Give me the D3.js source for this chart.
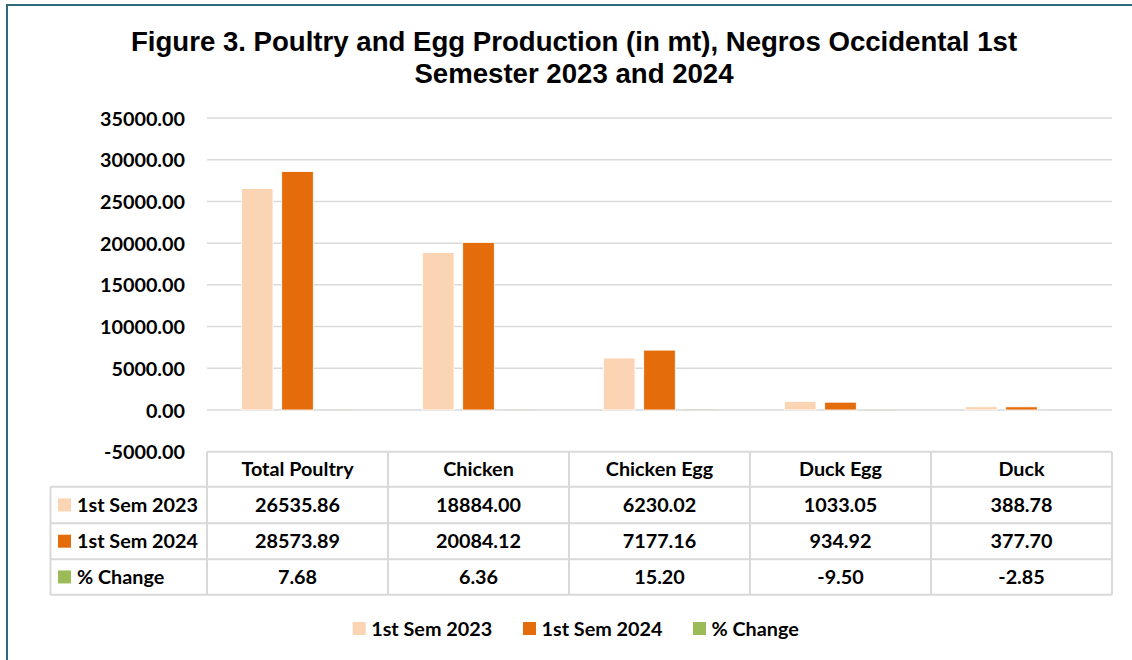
<!DOCTYPE html>
<meta charset="utf-8">
<title>Figure 3 - Poultry and Egg Production</title>
<style>
body { margin: 0; background: #fff; }
svg { display: block; }
.cal { font-family: Lato, "Open Sans", sans-serif; font-weight: bold; fill: #000; }
</style>
<script src="https://d3js.org/d3.v7.min.js"></script>
<body>
<script>
var width = 1132, height = 660;

// chart data
var categories = ["Total Poultry", "Chicken", "Chicken Egg", "Duck Egg", "Duck"];
var seriesNames = ["1st Sem 2023", "1st Sem 2024", "% Change"];
var sem2023 = [26535.86, 18884.00, 6230.02, 1033.05, 388.78];
var sem2024 = [28573.89, 20084.12, 7177.16, 934.92, 377.70];
var pctChange = [7.68, 6.36, 15.20, -9.50, -2.85];
var yTicks = [-5000, 0, 5000, 10000, 15000, 20000, 25000, 30000, 35000];
var colors = ["#FBD4B4", "#E46C0A", "#9BBB59"];

var series = [sem2023, sem2024, pctChange];
var fmt = d3.formatLocale({ decimal: ".", thousands: ",", grouping: [3], currency: ["", ""], minus: "-" }).format(".2f");
var fs = "19.8px";

var svg = d3.select("body").append("svg")
    .attr("width", width)
    .attr("height", height);

// outer frame (runs off the right and bottom edge)
svg.append("rect")
    .attr("x", 7).attr("y", 5)
    .attr("width", 1140).attr("height", 670)
    .attr("fill", "none")
    .attr("stroke", "#2F6A7A")
    .attr("stroke-width", 2);

// title
var title = svg.append("text")
    .attr("text-anchor", "middle")
    .style("font-family", "'Liberation Sans', Arial, sans-serif")
    .style("font-weight", "bold")
    .style("font-size", "27.6px");
title.append("tspan").attr("x", 574).attr("y", 51)
    .text("Figure 3. Poultry and Egg Production (in mt), Negros Occidental 1st");
title.append("tspan").attr("x", 574).attr("y", 83)
    .text("Semester 2023 and 2024");

var left = 207, right = 1112;

var y = d3.scaleLinear()
    .domain([-5000, 35000])
    .range([451.7, 118]);

var x0 = d3.scaleBand()
    .domain(categories)
    .range([left, right]);

var x1 = d3.scaleBand()
    .domain(seriesNames)
    .range([34.4, 146.6])
    .paddingInner(0.216);

// gridlines
svg.append("g")
  .selectAll("line")
    .data(yTicks.filter(function(d) { return d >= 0; }))
  .enter().append("line")
    .attr("x1", left).attr("x2", right)
    .attr("y1", function(d) { return y(d); })
    .attr("y2", function(d) { return y(d); })
    .attr("stroke", "#D9D9D9")
    .attr("stroke-width", 1.5);

// y axis labels
var yAxis = d3.axisLeft(y)
    .tickValues(yTicks)
    .tickFormat(fmt)
    .tickSize(0)
    .tickPadding(0);
var ya = svg.append("g")
    .attr("transform", "translate(185,0)")
    .call(yAxis);
ya.select(".domain").remove();
ya.selectAll("text")
    .attr("class", "cal")
    .attr("dy", "0.36em")
    .style("font-size", fs);

// bars
var groups = svg.append("g")
  .selectAll("g")
    .data(categories)
  .enter().append("g")
    .attr("transform", function(d) { return "translate(" + x0(d) + ",0)"; });

groups.selectAll("rect")
    .data(function(d, i) {
      return series.map(function(s, j) { return { name: seriesNames[j], value: s[i], j: j }; });
    })
  .enter().append("rect")
    .attr("x", function(d) { return x1(d.name); })
    .attr("width", x1.bandwidth())
    .attr("y", function(d) { return y(Math.max(0, d.value)); })
    .attr("height", function(d) { return Math.abs(y(d.value) - y(0)); })
    .attr("fill", function(d) { return colors[d.j]; })
    .attr("stroke", function(d) { return Math.abs(y(d.value) - y(0)) > 1 ? "#fff" : "none"; })
    .attr("stroke-width", 0.8);

// data table
var tableTop = 451.7, rowH = [35, 36.5, 36, 35.5];
var rowY = [tableTop];
rowH.forEach(function(h, i) { rowY.push(rowY[i] + h); });
var labelLeft = 50.5;
var tbl = svg.append("g");
var lineColor = "#D9D9D9";

// horizontal lines
rowY.forEach(function(yy, i) {
  tbl.append("line")
      .attr("x1", i === 0 ? left : labelLeft).attr("x2", right)
      .attr("y1", yy).attr("y2", yy)
      .attr("stroke", lineColor).attr("stroke-width", 2);
});
// vertical lines
tbl.append("line")
    .attr("x1", labelLeft).attr("x2", labelLeft)
    .attr("y1", rowY[1]).attr("y2", rowY[4])
    .attr("stroke", lineColor).attr("stroke-width", 2);
categories.concat(["end"]).forEach(function(c, i) {
  var xx = i < categories.length ? x0(c) : right;
  tbl.append("line")
      .attr("x1", xx).attr("x2", xx)
      .attr("y1", rowY[0]).attr("y2", rowY[4])
      .attr("stroke", lineColor).attr("stroke-width", 2);
});

// header
tbl.selectAll("text.head")
    .data(categories)
  .enter().append("text")
    .attr("class", "cal head")
    .attr("text-anchor", "middle")
    .attr("x", function(d) { return x0(d) + x0.bandwidth() / 2; })
    .attr("y", (rowY[0] + rowY[1]) / 2)
    .attr("dy", "0.36em")
    .style("font-size", fs)
    .text(function(d) { return d; });

// rows
series.forEach(function(s, j) {
  var cy = (rowY[j + 1] + rowY[j + 2]) / 2;
  tbl.append("rect")
      .attr("x", 58).attr("y", cy - 6.5)
      .attr("width", 13).attr("height", 13)
      .attr("fill", colors[j]);
  tbl.append("text")
      .attr("class", "cal")
      .attr("x", 77).attr("y", cy)
      .attr("dy", "0.36em")
      .style("font-size", fs)
      .text(seriesNames[j]);
  tbl.selectAll("text.v" + j)
      .data(s)
    .enter().append("text")
      .attr("class", "cal v" + j)
      .attr("text-anchor", "middle")
      .attr("x", function(d, i) { return x0(categories[i]) + x0.bandwidth() / 2; })
      .attr("y", cy)
      .attr("dy", "0.36em")
      .style("font-size", fs)
      .text(function(d) { return fmt(d); });
});

// legend
var legendX = [352.7, 523, 693];
var legend = svg.append("g");
seriesNames.forEach(function(n, j) {
  legend.append("rect")
      .attr("x", legendX[j]).attr("y", 622)
      .attr("width", 13).attr("height", 13)
      .attr("fill", colors[j]);
  legend.append("text")
      .attr("class", "cal")
      .attr("x", legendX[j] + 18.5).attr("y", 628.5)
      .attr("dy", "0.36em")
      .style("font-size", fs)
      .text(n);
});
</script>
